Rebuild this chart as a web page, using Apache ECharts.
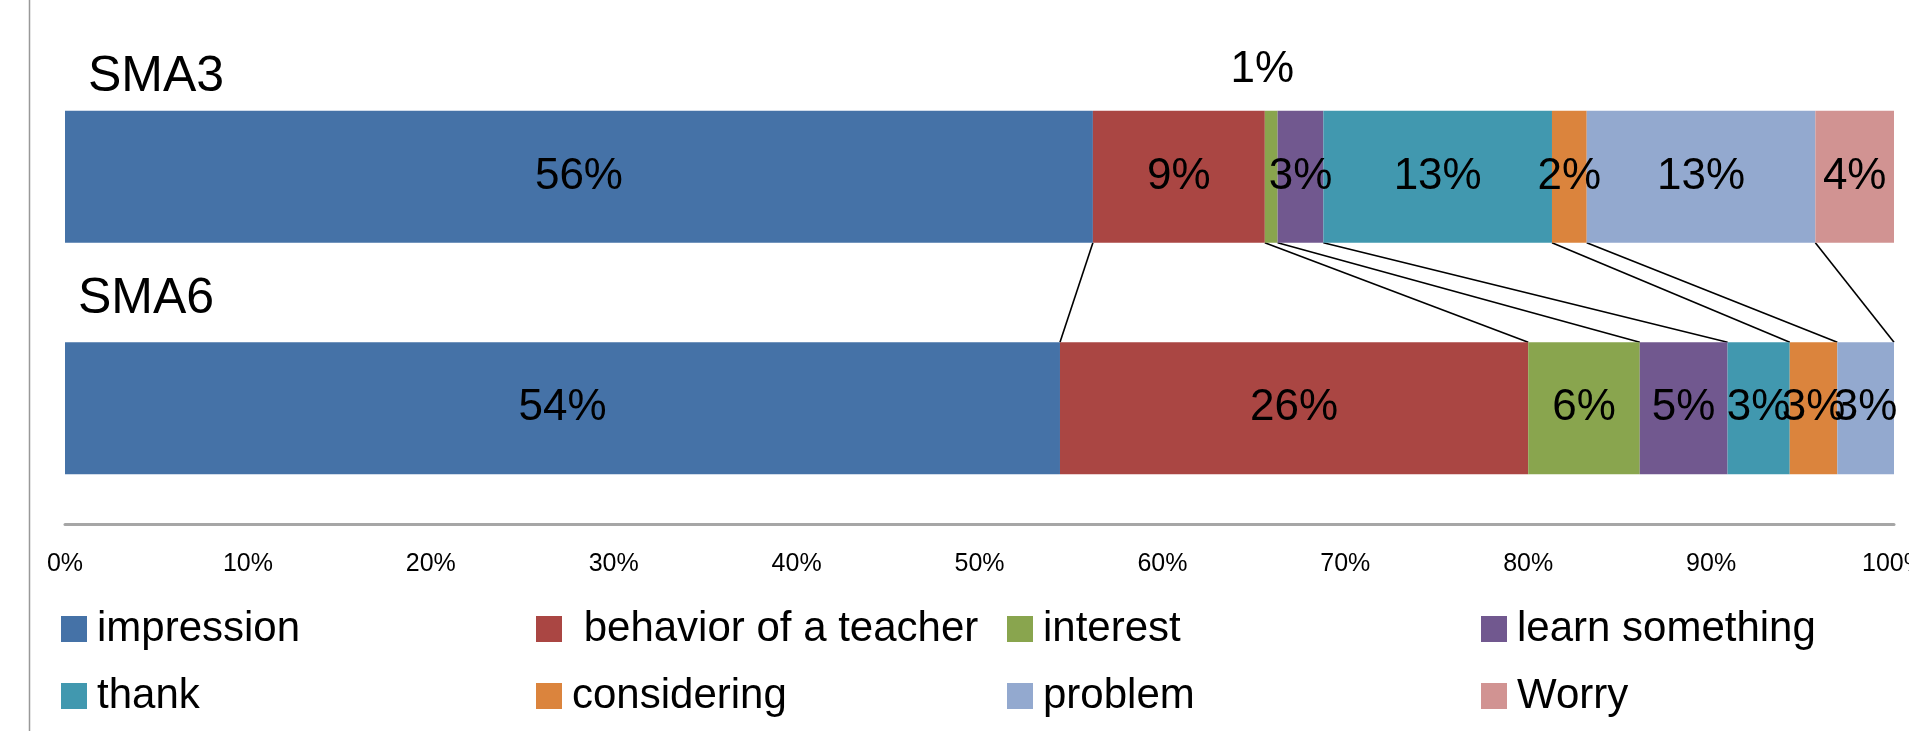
<!DOCTYPE html>
<html>
<head>
<meta charset="utf-8">
<title>SMA3 / SMA6</title>
<script src="https://cdn.jsdelivr.net/npm/echarts@6/dist/echarts.min.js"></script>
<style>
    html, body { margin: 0; padding: 0; background: #fff; }
    #main { width: 1909px; height: 737px; }
</style>
</head>
<body>
<div id="main"></div>
<script>
// 数据
var categories = ['SMA3', 'SMA6'];
var seriesNames = ['impression', ' behavior of a teacher', 'interest', 'learn something', 'thank', 'considering', 'problem', 'Worry'];
var sma3Values = [56.2, 9.4, 0.7, 2.5, 12.5, 1.9, 12.5, 4.3];
var sma6Values = [54.4, 25.6, 6.1, 4.8, 3.4, 2.6, 3.1, 0];
var colors = ['#4572A7', '#AA4643', '#89A54E', '#71588F', '#4198AF', '#DB843D', '#93A9CF', '#D19392'];

var fontName = 'Liberation Sans';
var barRatio = 0.57;

// 累计值 -> 系列线
function cumulative(arr) {
    var out = [], sum = 0;
    for (var i = 0; i < arr.length; i++) {
        sum += arr[i];
        out.push(sum);
    }
    return out;
}
var cum3 = cumulative(sma3Values);
var cum6 = cumulative(sma6Values);
var lineData = [];
for (var i = 0; i < seriesNames.length - 1; i++) {
    lineData.push([cum3[i], cum6[i], 0]);
}

var series = [];
for (var k = 0; k < seriesNames.length; k++) {
    var d = [
        { value: sma3Values[k] },
        { value: sma6Values[k] }
    ];
    // 1% 放在柱子上方
    if (k === 2) {
        d[0].label = { position: 'top', distance: 19, offset: [-9, 0] };
    }
    series.push({
        name: seriesNames[k],
        type: 'bar',
        stack: 'total',
        barWidth: (barRatio * 100) + '%',
        itemStyle: { color: colors[k] },
        label: {
            show: true,
            position: 'inside',
            color: '#000',
            fontSize: 44,
            fontFamily: fontName,
            formatter: function (p) {
                return p.value > 0 ? Math.round(p.value) + '%' : '';
            }
        },
        data: d
    });
}

series.push({
    name: 'lines',
    type: 'custom',
    silent: true,
    encode: { x: [0, 1], y: 2 },
    renderItem: function (params, api) {
        var a = api.coord([api.value(0), 0]);
        var b = api.coord([api.value(1), 1]);
        var half = api.size([0, 1])[1] * barRatio / 2;
        return {
            type: 'line',
            shape: { x1: a[0], y1: a[1] + half, x2: b[0], y2: b[1] - half },
            style: { stroke: '#000', lineWidth: 1.6 }
        };
    },
    data: lineData
});

// 图例：四列两行
function makeLegend(names, left) {
    return {
        orient: 'vertical',
        left: left,
        top: 604,
        padding: 0,
        itemWidth: 26,
        itemHeight: 26,
        itemGap: 17,
        icon: 'rect',
        selectedMode: false,
        textStyle: {
            fontSize: 42,
            lineHeight: 50,
            color: '#000',
            fontFamily: fontName,
            padding: [0, 0, 0, 5]
        },
        data: names
    };
}

var option = {
    animation: false,
    backgroundColor: '#fff',
    grid: {
        left: 65,
        right: 15,
        top: 61,
        bottom: 213,
        containLabel: false,
        outerBoundsMode: 'none'
    },
    xAxis: {
        type: 'value',
        min: 0,
        max: 100,
        interval: 10,
        axisLine: { show: true, lineStyle: { color: '#a6a6a6', width: 3 } },
        axisTick: { show: false },
        splitLine: { show: false },
        axisLabel: {
            formatter: '{value}%',
            fontSize: 25,
            color: '#000',
            fontFamily: fontName,
            margin: 28
        }
    },
    yAxis: {
        type: 'category',
        inverse: true,
        data: categories,
        axisLine: { show: false },
        axisTick: { show: false },
        axisLabel: { show: false }
    },
    legend: [
        makeLegend([seriesNames[0], seriesNames[4]], 61),
        makeLegend([seriesNames[1], seriesNames[5]], 536),
        makeLegend([seriesNames[2], seriesNames[6]], 1007),
        makeLegend([seriesNames[3], seriesNames[7]], 1481)
    ],
    series: series
};

var chart = echarts.init(document.getElementById('main'));
chart.setOption(option);

// 分类名称放在柱子左上方
var labelShift = [[23, -100], [13, -109]];
var graphics = [{
    type: 'line',
    shape: { x1: 29.5, y1: 0, x2: 29.5, y2: 731 },
    style: { stroke: '#999', lineWidth: 1.5 }
}];
for (var c = 0; c < categories.length; c++) {
    var p = chart.convertToPixel({ xAxisIndex: 0, yAxisIndex: 0 }, [0, categories[c]]);
    graphics.push({
        type: 'text',
        x: p[0] + labelShift[c][0],
        y: p[1] + labelShift[c][1],
        style: {
            text: categories[c],
            fontSize: 50,
            fontFamily: fontName,
            fill: '#000',
            align: 'left',
            verticalAlign: 'middle'
        }
    });
}
chart.setOption({ graphic: graphics });
</script>
</body>
</html>
